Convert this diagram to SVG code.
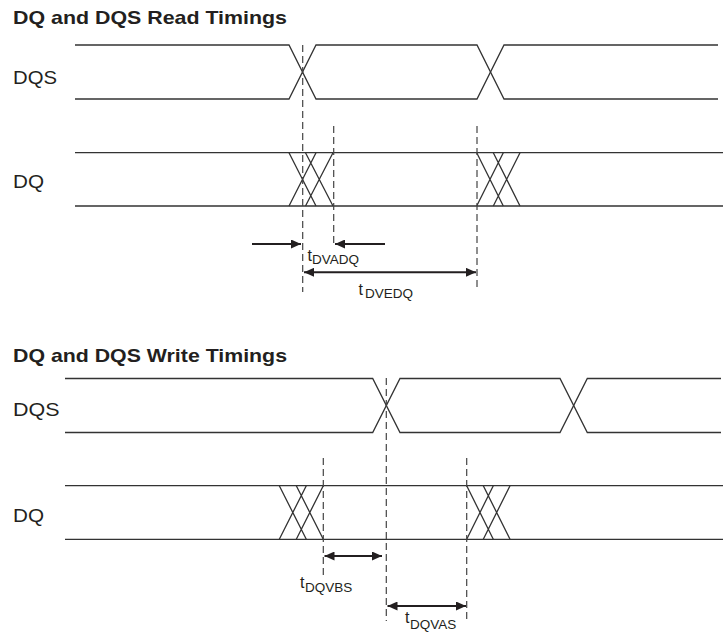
<svg xmlns="http://www.w3.org/2000/svg" width="723" height="637" viewBox="0 0 723 637">
<style>
.bg{fill:#ffffff}
.sig{fill:none;stroke:#333333;stroke-width:1.3}
.dash{fill:none;stroke:#444444;stroke-width:1.2;stroke-dasharray:7 4}
.arr{fill:none;stroke:#231f20;stroke-width:2}
.title{font-family:"Liberation Sans",Arial,sans-serif;font-weight:bold;font-size:18.5px;fill:#231f20}
.lbl{font-family:"Liberation Sans",Arial,sans-serif;font-size:18.5px;fill:#231f20}
.t{font-family:"Liberation Sans",Arial,sans-serif;font-size:16px;fill:#231f20}
.sub{font-family:"Liberation Sans",Arial,sans-serif;font-size:13.5px;fill:#231f20}
</style>
<defs>
<marker id="ah" viewBox="0 0 10 9" refX="10" refY="4.5" markerWidth="10" markerHeight="9" markerUnits="userSpaceOnUse" orient="auto-start-reverse">
<path d="M0,0 L10,4.5 L0,9 z" fill="#231f20"/>
</marker>
</defs>
<rect class="bg" x="0" y="0" width="723" height="637"/>

<g id="read-section">
<text class="title" x="13" y="24" textLength="274" lengthAdjust="spacingAndGlyphs">DQ and DQS Read Timings</text>
<g id="read-dqs">
<text class="lbl" x="13" y="83.5" textLength="44" lengthAdjust="spacingAndGlyphs">DQS</text>
<path class="sig" d="M75,45 H289 L316,99 H477 L504,45 H718"/>
<path class="sig" d="M75,99 H289 L316,45 H477 L504,99 H718"/>
</g>
<g id="read-dq">
<text class="lbl" x="13" y="188" textLength="31" lengthAdjust="spacingAndGlyphs">DQ</text>
<path class="sig" d="M75,152.7 H723 M75,206 H723"/>
<path class="sig" d="M289,152.7 L316,206 M289,206 L316,152.7 M305.5,152.7 L333,206 M305.5,206 L333,152.7"/>
<path class="sig" d="M476.7,152.7 L503.3,206 M476.7,206 L503.3,152.7 M493.3,152.7 L520,206 M493.3,206 L520,152.7"/>
</g>
<g id="read-timing">
<text x="307.5" y="260.5" class="t">t</text><text x="312" y="263.5" class="sub">DVADQ</text>
<text x="358.5" y="294.5" class="t">t</text><text x="365" y="297.5" class="sub">DVEDQ</text>
</g>
</g>

<g id="write-section">
<text class="title" x="13" y="361.5" textLength="274" lengthAdjust="spacingAndGlyphs">DQ and DQS Write Timings</text>
<g id="write-dqs">
<text class="lbl" x="13" y="416" textLength="46.5" lengthAdjust="spacingAndGlyphs">DQS</text>
<path class="sig" d="M65,378.5 H372.7 L400,432.5 H560 L587.3,378.5 H721"/>
<path class="sig" d="M65,432.5 H372.7 L400,378.5 H560 L587.3,432.5 H721"/>
</g>
<g id="write-dq">
<text class="lbl" x="13" y="521.5" textLength="31" lengthAdjust="spacingAndGlyphs">DQ</text>
<path class="sig" d="M65,485.7 H723 M65,539.3 H723"/>
<path class="sig" d="M279.3,485.7 L306.3,539.3 M279.3,539.3 L306.3,485.7 M296.3,485.7 L323.3,539.3 M296.3,539.3 L323.3,485.7"/>
<path class="sig" d="M466.7,485.7 L493.3,539.3 M466.7,539.3 L493.3,485.7 M483.3,485.7 L510,539.3 M483.3,539.3 L510,485.7"/>
</g>
<g id="write-timing">
<text x="300" y="588" class="t">t</text><text x="305" y="592" class="sub">DQVBS</text>
<text x="405" y="623" class="t">t</text><text x="410" y="628.5" class="sub">DQVAS</text>
</g>
</g>

<g id="connectors">
<path class="dash" d="M302.7,45 V292"/>
<path class="dash" d="M333.7,126 V247"/>
<path class="dash" d="M477,126 V287"/>
<line class="arr" x1="252" y1="244" x2="301" y2="244" marker-end="url(#ah)"/>
<line class="arr" x1="385" y1="244" x2="335" y2="244" marker-end="url(#ah)"/>
<line class="arr" x1="304" y1="272.3" x2="476" y2="272.3" marker-start="url(#ah)" marker-end="url(#ah)"/>

<path class="dash" d="M386.3,378 V621"/>
<path class="dash" d="M323.3,458 V578"/>
<path class="dash" d="M466.7,458 V621"/>
<line class="arr" x1="324.5" y1="556" x2="382" y2="556" marker-start="url(#ah)" marker-end="url(#ah)"/>
<line class="arr" x1="387.5" y1="606" x2="466" y2="606" marker-start="url(#ah)" marker-end="url(#ah)"/>
</g>
</svg>
